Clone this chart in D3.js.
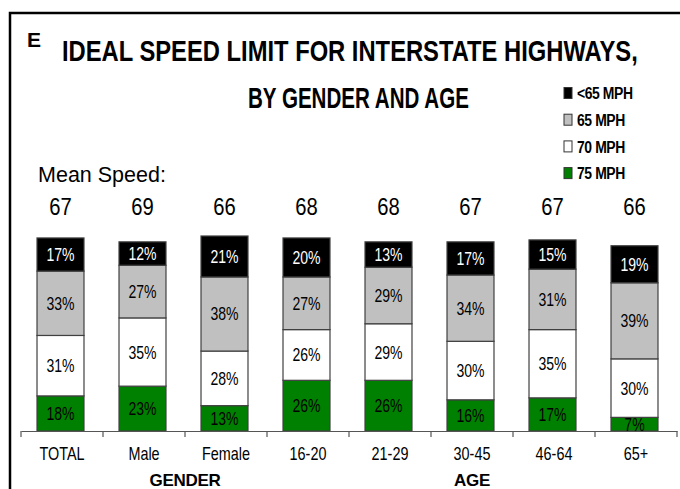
<!DOCTYPE html>
<html>
<head>
<meta charset="utf-8">
<script src="https://cdn.jsdelivr.net/npm/d3@7"></script>
<style>
  body { margin: 0; background: #fff; }
  svg { display: block; }
  text { font-family: "Liberation Sans", Arial, sans-serif; }
</style>
</head>
<body>
<div id="chart"></div>
<script>
const categories = ["TOTAL", "Male", "Female", "16-20", "21-29", "30-45", "46-64", "65+"];
const meanSpeed = [67, 69, 66, 68, 68, 67, 67, 66];
const under65 = [17, 12, 21, 20, 13, 17, 15, 19];
const mph65 = [33, 27, 38, 27, 29, 34, 31, 39];
const mph70 = [31, 35, 28, 26, 29, 30, 35, 30];
const mph75 = [18, 23, 13, 26, 26, 16, 17, 7];
const seriesNames = ["75 MPH", "70 MPH", "65 MPH", "<65 MPH"];
const groups = [
    {name: "GENDER", from: "Male", to: "Female"},
    {name: "AGE", from: "16-20", to: "65+"}
];

const width = 680;
const height = 489;
const narrow = 0.8; // no narrow font installed, squeeze glyphs instead

const colors = {"<65 MPH": "#000000", "65 MPH": "#c0c0c0", "70 MPH": "#ffffff", "75 MPH": "#008000"};
const textColors = {"<65 MPH": "#ffffff", "65 MPH": "#000000", "70 MPH": "#000000", "75 MPH": "#000000"};

const table = categories.map((c, i) => ({
    name: c,
    "75 MPH": mph75[i], "70 MPH": mph70[i], "65 MPH": mph65[i], "<65 MPH": under65[i]
}));

const stack = d3.stack().keys(seriesNames)(table);

const x = d3.scaleBand().domain(categories).range([19.5, 675.5]).paddingInner(0.427).paddingOuter(0.2135);
const xAxisScale = d3.scaleBand().domain(categories).range([21, 677]);
const y = d3.scaleLinear().domain([0, 100]).range([431, 236]);

const svg = d3.select("#chart").append("svg")
    .attr("width", width)
    .attr("height", height);

// frame lines (top and left)
svg.append("path")
    .attr("d", `M10,489 V13 H680`)
    .attr("fill", "none")
    .attr("stroke", "#000")
    .attr("stroke-width", 2.5);

// squeeze a text so it spans a given width
function fitWidth(sel, x0, y0, w) {
    const len = sel.node().getComputedTextLength();
    sel.attr("transform", `translate(${x0},${y0}) scale(${w / len},1)`);
}

// titles
svg.append("text")
    .attr("x", 27).attr("y", 47)
    .attr("font-weight", "bold")
    .attr("font-size", 21)
    .text("E");

svg.append("text")
    .attr("font-weight", "bold")
    .attr("font-size", 29)
    .text("IDEAL SPEED LIMIT FOR INTERSTATE HIGHWAYS,")
    .call(fitWidth, 62, 61, 576);

svg.append("text")
    .attr("font-weight", "bold")
    .attr("font-size", 29)
    .text("BY GENDER AND AGE")
    .call(fitWidth, 248, 108, 221);

// legend, top entry first
const legend = svg.append("g")
    .selectAll("g")
    .data(seriesNames.slice().reverse())
    .join("g")
    .attr("transform", (d, i) => `translate(564,${93 + i * 26.7})`);

legend.append("rect")
    .attr("x", 0).attr("y", -5.5)
    .attr("width", 8).attr("height", 11)
    .attr("fill", d => colors[d])
    .attr("stroke", "#333")
    .attr("stroke-width", 1);

legend.append("text")
    .attr("transform", `translate(13,0) scale(0.82,1)`)
    .attr("dy", "0.36em")
    .attr("font-weight", "bold")
    .attr("font-size", 17)
    .attr("letter-spacing", -0.5)
    .text(d => d);

// mean speed row
svg.append("text")
    .attr("font-size", 22)
    .text("Mean Speed:")
    .call(fitWidth, 38, 182, 128);

svg.append("g")
    .selectAll("text")
    .data(categories)
    .join("text")
    .attr("transform", d => `translate(${x(d) + x.bandwidth() / 2},215) scale(0.88,1)`)
    .attr("text-anchor", "middle")
    .attr("font-size", 23)
    .text((d, i) => meanSpeed[i]);

// bars
const layers = svg.append("g")
    .selectAll("g")
    .data(stack)
    .join("g")
    .attr("fill", s => colors[s.key]);

layers.selectAll("rect")
    .data(s => s)
    .join("rect")
    .attr("x", d => x(d.data.name))
    .attr("y", d => y(d[1]))
    .attr("width", x.bandwidth())
    .attr("height", d => y(d[0]) - y(d[1]))
    .attr("stroke", "#404040")
    .attr("stroke-width", 1.2);

const labels = svg.append("g")
    .selectAll("g")
    .data(stack)
    .join("g")
    .attr("fill", s => textColors[s.key]);

labels.selectAll("text")
    .data(s => s)
    .join("text")
    .attr("transform", d => `translate(${x(d.data.name) + x.bandwidth() / 2},${(y(d[0]) + y(d[1])) / 2}) scale(0.78,1)`)
    .attr("dy", "0.36em")
    .attr("text-anchor", "middle")
    .attr("font-size", 18)
    .text(d => `${d[1] - d[0]}%`);

// x axis: labels centred, ticks at category boundaries
const xAxis = svg.append("g")
    .attr("transform", `translate(0,${y(0)})`)
    .call(d3.axisBottom(xAxisScale).tickSize(0).tickPadding(16));

xAxis.select(".domain").attr("stroke", "#555").attr("stroke-width", 1.2);
xAxis.selectAll(".tick text")
    .attr("font-family", null)
    .attr("font-size", 18)
    .attr("fill", "#000")
    .attr("transform", `scale(${narrow},1)`);

const bounds = categories.map(c => xAxisScale(c)).concat([xAxisScale.range()[1]]);
xAxis.selectAll(".bound")
    .data(bounds)
    .join("line")
    .attr("class", "bound")
    .attr("x1", d => d).attr("x2", d => d)
    .attr("y1", 0).attr("y2", 6)
    .attr("stroke", "#555")
    .attr("stroke-width", 1.2);

// group labels
svg.append("g")
    .selectAll("text")
    .data(groups)
    .join("text")
    .attr("x", g => (xAxisScale(g.from) + xAxisScale(g.to) + xAxisScale.bandwidth()) / 2)
    .attr("y", 486)
    .attr("text-anchor", "middle")
    .attr("font-weight", "bold")
    .attr("font-size", 17)
    .attr("letter-spacing", -0.3)
    .text(g => g.name);
</script>
</body>
</html>
